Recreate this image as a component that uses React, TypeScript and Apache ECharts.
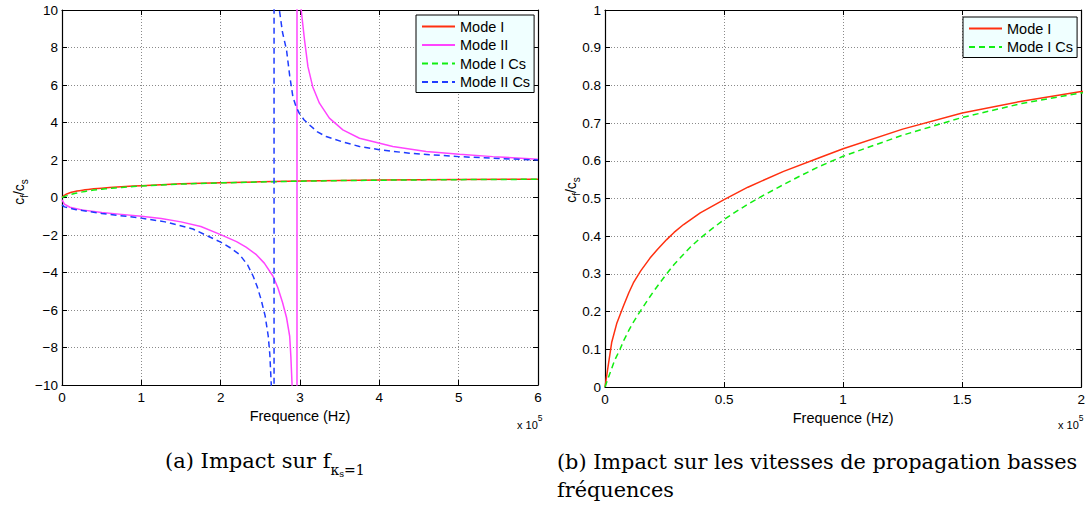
import React, { useEffect, useRef } from "react";
import * as echarts from "echarts";

// Frequencies are in units of 10^5 Hz (axis shows "x 10^5")
// Mode I (shared by both panels)
const modeIFreq = [0, 0.028, 0.05, 0.077, 0.1, 0.119, 0.15, 0.189, 0.22, 0.259, 0.29, 0.33, 0.4, 0.5, 0.6, 0.75, 0.9, 1.0, 1.25, 1.5, 1.75, 2.0, 2.5, 3, 3.5, 4, 5, 6];
const modeI = [0, 0.118, 0.17, 0.214, 0.25, 0.276, 0.308, 0.342, 0.365, 0.391, 0.41, 0.431, 0.462, 0.497, 0.53, 0.572, 0.608, 0.632, 0.684, 0.727, 0.758, 0.784, 0.835, 0.875, 0.905, 0.928, 0.955, 0.975];

// Mode I Cs
const modeICsFreq = [0, 0.02, 0.04, 0.063, 0.08, 0.1, 0.12, 0.147, 0.17, 0.2, 0.23, 0.259, 0.29, 0.33, 0.36, 0.4, 0.45, 0.5, 0.55, 0.6, 0.67, 0.75, 0.82, 0.9, 1.0, 1.25, 1.5, 1.75, 2.0, 2.5, 3, 3.5, 4, 5, 6];
const modeICs = [0, 0.035, 0.07, 0.1, 0.125, 0.15, 0.173, 0.2, 0.222, 0.25, 0.276, 0.3, 0.325, 0.352, 0.372, 0.395, 0.42, 0.444, 0.465, 0.485, 0.51, 0.537, 0.56, 0.585, 0.612, 0.668, 0.715, 0.752, 0.78, 0.83, 0.87, 0.9, 0.923, 0.952, 0.972];

// Mode II
const modeIIFreq = [0, 0.03, 0.1, 0.25, 0.5, 0.75, 1, 1.25, 1.5, 1.75, 2, 2.2, 2.32, 2.45, 2.55, 2.66, 2.72, 2.78, 2.83, 2.87, 2.885, 2.9, 2.93, 2.958, 2.966, 2.985, 3.015, 3.057, 3.1, 3.16, 3.245, 3.37, 3.54, 3.75, 4.17, 4.59, 5.01, 5.43, 6];
const modeII = [-0.12, -0.35, -0.52, -0.66, -0.8, -0.9, -1.0, -1.12, -1.3, -1.55, -1.98, -2.35, -2.65, -3.05, -3.5, -4.2, -4.8, -5.6, -6.4, -7.4, -8.5, -10, -25, -5000, 5000, 16, 10, 8.4, 6.98, 5.91, 5.03, 4.23, 3.61, 3.16, 2.72, 2.45, 2.31, 2.18, 2.04];

// Mode II Cs
const modeIICsFreq = [0, 0.03, 0.18, 0.5, 1, 1.3, 1.65, 2, 2.12, 2.24, 2.34, 2.41, 2.46, 2.51, 2.56, 2.6, 2.62, 2.638, 2.655, 2.668, 2.678, 2.71, 2.74, 2.78, 2.83, 2.87, 2.91, 2.95, 2.99, 3.05, 3.12, 3.22, 3.33, 3.55, 3.75, 4.0, 4.38, 5, 5.5, 6];
const modeIICs = [-0.39, -0.5, -0.65, -0.85, -1.1, -1.3, -1.68, -2.38, -2.68, -3.05, -3.6, -4.2, -4.75, -5.45, -6.3, -7.4, -8.4, -10, -20, -5000, 5000, 18, 10, 8.8, 7.87, 6.5, 5.38, 4.85, 4.5, 4.15, 3.87, 3.5, 3.25, 2.95, 2.72, 2.55, 2.36, 2.18, 2.08, 2.0];

const legendA = ["Mode I", "Mode II", "Mode I Cs", "Mode II Cs"];
const legendB = ["Mode I", "Mode I Cs"];

const SANS = "Liberation Sans, Arial, Helvetica, sans-serif";
const SERIF = "DejaVu Serif, serif";
const TICK_FS = 13.5;

const RED = "#ff3010";
const MAGENTA = "#ff44ff";
const GREEN = "#11ee11";
const BLUE = "#1f3cff";

const pairs = (xs: number[], ys: number[]) => xs.map((x, i) => [x, ys[i]]);

const minus = (v: number) => (v < 0 ? "\u2212" + String(-v) : String(v));
const dec = (v: number) => String(+v.toFixed(1));

function axisPair(kind: "x" | "y", gridIndex: number, min: number, max: number, interval: number, fmt: (v: number) => string, extra: any) {
  const line = { show: true, onZero: false, lineStyle: { color: "#000", width: 1.2 } };
  const tick = { show: true, inside: true, length: 5, lineStyle: { color: "#000", width: 1 } };
  const main: any = {
    type: "value",
    gridIndex,
    min,
    max,
    interval,
    position: kind === "x" ? "bottom" : "left",
    axisLine: line,
    axisTick: tick,
    axisLabel: { show: true, margin: kind === "x" ? 5 : 4, color: "#000", fontSize: TICK_FS, fontFamily: SANS, formatter: fmt },
    splitLine: { show: true, lineStyle: { color: "#8a8a8a", type: [1, 2], width: 1 } },
    ...extra,
  };
  const second: any = {
    type: "value",
    gridIndex,
    min,
    max,
    interval,
    position: kind === "x" ? "top" : "right",
    axisLine: line,
    axisTick: tick,
    axisLabel: { show: false },
    splitLine: { show: false },
  };
  return [main, second];
}

function lineSeries(name: string, data: number[][], color: string, dashed: boolean, xi: number, yi: number) {
  return {
    type: "line",
    name,
    data,
    xAxisIndex: xi,
    yAxisIndex: yi,
    showSymbol: false,
    symbol: "none",
    clip: true,
    animation: false,
    lineStyle: { color, width: 1.5, type: dashed ? [6, 4] : "solid" },
    itemStyle: { color },
  };
}

const xName = (gap: number) => ({
  name: "Frequence (Hz)",
  nameLocation: "middle",
  nameGap: gap,
  nameTextStyle: { color: "#000", fontSize: 14.5, fontFamily: SANS },
});

const yLabel = (x: number, y: number) => ({
  type: "text",
  x,
  y,
  rotation: Math.PI / 2,
  style: {
    text: "{n|c}{s|f}{n|/c}{s|s}",
    align: "center",
    verticalAlign: "middle",
    fill: "#000",
    rich: {
      n: { fontSize: 14, fontFamily: SANS, lineHeight: 14, verticalAlign: "top", fill: "#000" },
      s: { fontSize: 10, fontFamily: SANS, lineHeight: 10, verticalAlign: "top", padding: [7, 0, 0, 0], fill: "#000" },
    },
  },
});

const expLabel = (x: number, y: number) => ({
  type: "text",
  x,
  y,
  style: {
    text: "{n|x 10}{p|5}",
    align: "left",
    verticalAlign: "middle",
    fill: "#000",
    rich: {
      n: { fontSize: 11, fontFamily: SANS, lineHeight: 12, verticalAlign: "top", padding: [6, 0, 0, 0], fill: "#000" },
      p: { fontSize: 8.5, fontFamily: SANS, lineHeight: 9, verticalAlign: "top", fill: "#000" },
    },
  },
});

const legendStyle = {
  orient: "vertical",
  itemWidth: 33,
  itemHeight: 14,
  itemGap: 3.5,
  itemTextGap: 4,
  padding: [4, 4, 3, 5],
  backgroundColor: "#f0ffff",
  borderColor: "#000",
  borderWidth: 1,
  borderRadius: 0,
  selectedMode: false,
  itemStyle: { opacity: 0, borderWidth: 0 },
  textStyle: { fontSize: 14.5, fontFamily: SANS, color: "#000" },
};

export default function App() {
  const ref = useRef<HTMLDivElement>(null);
  useEffect(() => {
    if (!ref.current) return;
    const chart = echarts.init(ref.current, null, { renderer: "svg" });
    const option: any = {
      animation: false,
      backgroundColor: "#fff",
      grid: [
        { left: 62, top: 10, width: 476, height: 375, containLabel: false },
        { left: 605, top: 10, width: 477, height: 377, containLabel: false },
      ],
      xAxis: [
        ...axisPair("x", 0, 0, 6, 1, (v) => String(v), xName(17)),
        ...axisPair("x", 1, 0, 2, 0.5, dec, xName(15)),
      ],
      yAxis: [
        ...axisPair("y", 0, -10, 10, 2, minus, {}),
        ...axisPair("y", 1, 0, 1, 0.1, dec, {}),
      ],
      legend: [
        { ...legendStyle, left: 416, top: 15, data: legendA },
        { ...legendStyle, left: 963, top: 17, data: legendB },
      ],
      series: [
        lineSeries("Mode I", pairs(modeIFreq, modeI), RED, false, 0, 0),
        lineSeries("Mode II", pairs(modeIIFreq, modeII), MAGENTA, false, 0, 0),
        lineSeries("Mode I Cs", pairs(modeICsFreq, modeICs), GREEN, true, 0, 0),
        lineSeries("Mode II Cs", pairs(modeIICsFreq, modeIICs), BLUE, true, 0, 0),
        lineSeries("Mode I", pairs(modeIFreq, modeI), RED, false, 2, 2),
        lineSeries("Mode I Cs", pairs(modeICsFreq, modeICs), GREEN, true, 2, 2),
      ],
      graphic: [
        yLabel(19, 192),
        yLabel(571, 190),
        expLabel(517, 419),
        expLabel(1058, 419),
        {
          type: "text",
          x: 165,
          y: 462,
          style: {
            text: "{n|(a) Impact sur f}{k|\u03ba}{ss|s}{k|=1}",
            align: "left",
            verticalAlign: "middle",
            fill: "#000",
            rich: {
              n: { fontSize: 21, fontFamily: SERIF, lineHeight: 23, verticalAlign: "top", fill: "#000" },
              k: { fontSize: 14, fontFamily: SERIF, lineHeight: 14, verticalAlign: "top", padding: [12, 0, 0, 0], fill: "#000" },
              ss: { fontSize: 9.5, fontFamily: SERIF, lineHeight: 10, verticalAlign: "top", padding: [18, 0, 0, 0], fill: "#000" },
            },
          },
        },
        {
          type: "text",
          x: 557,
          y: 448,
          style: {
            text: "(b) Impact sur les vitesses de propagation basses\nfr\u00e9quences",
            align: "left",
            verticalAlign: "top",
            fill: "#000",
            fontSize: 20.8,
            lineHeight: 28,
            fontFamily: SERIF,
          },
        },
      ],
    };
    chart.setOption(option);
    return () => chart.dispose();
  }, []);
  return (
    <div
      ref={ref}
      style={{ position: "absolute", left: 0, top: 0, width: 1088, height: 506, background: "#fff" }}
    />
  );
}
